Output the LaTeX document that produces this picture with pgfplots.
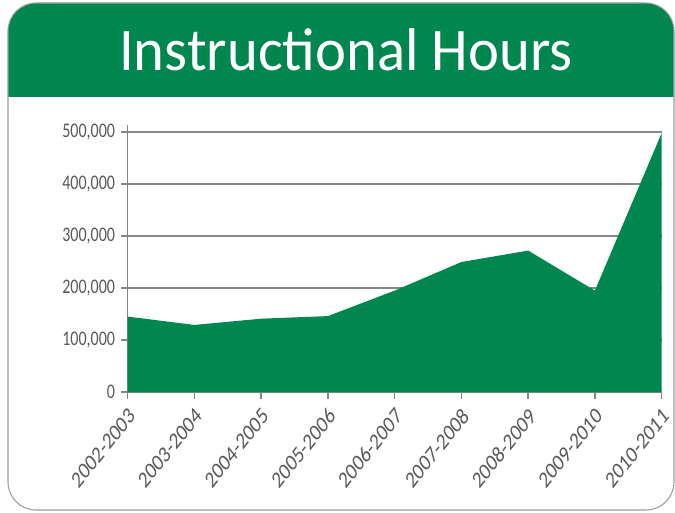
\documentclass[border=0pt]{standalone}
\usepackage{pgfplots}
\pgfplotsset{compat=1.18}
\usepackage{fontspec}
\setmainfont{Carlito}
\definecolor{hdr}{RGB}{0,134,79}
\definecolor{txt}{RGB}{89,89,89}
\definecolor{grd}{RGB}{134,134,134}
\begin{document}
\begin{tikzpicture}
\useasboundingbox (0,0) rectangle (506.25pt,384pt);
\fill[white] (0,0) rectangle (506.25pt,384pt);
\begin{scope}
\clip[rounded corners=21pt] (6pt,1.5pt) rectangle (505.5pt,381.75pt);
\fill[hdr] (0,311.25pt) rectangle (506.25pt,384pt);
\end{scope}
\draw[grd!80, line width=0.8pt, rounded corners=21pt] (6pt,1.5pt) rectangle (505.5pt,381.75pt);
\node[white, font=\fontsize{44}{50}\selectfont, yscale=1.03] at (259.5pt,346.5pt) {Instructional Hours};
\begin{axis}[
  at={(95.75pt,90pt)}, anchor=origin,
  scale only axis, width=400.5pt, height=200.25pt,
  xmin=0, xmax=8, ymin=0, ymax=513500,
  axis x line*=bottom, axis y line*=left,
  axis line style={grd, line width=1pt, -},
  xtick={0,...,8},
  xticklabels={2002-2003,2003-2004,2004-2005,2005-2006,2006-2007,2007-2008,2008-2009,2009-2010,2010-2011},
  ytick={0,100000,200000,300000,400000,500000},
  yticklabels={0,{100,000},{200,000},{300,000},{400,000},{500,000}},
  scaled y ticks=false,
  ymajorgrids, grid style={grd, line width=1pt},
  tick align=outside, major tick length=5pt,
  tick style={grd, line width=1pt},
  y tick label style={txt, font=\fontsize{12}{13}\selectfont, yscale=1.3, xshift=-1pt},
  x tick label style={txt, font=\fontsize{14}{16}\selectfont, anchor=east, inner sep=1pt,
     xshift=4pt, yshift=-9pt, cm={0.7071,0.884,-0.7071,0.884,(0,0)}},
  clip=false,
]
\addplot[fill=hdr, draw=none] coordinates {
(0,145000) (1,129000) (2,141000) (3,146000) (4,195000) (5,250000) (6,272000) (7,195000) (8,498000)
} \closedcycle;
\end{axis}
\end{tikzpicture}
\end{document}
